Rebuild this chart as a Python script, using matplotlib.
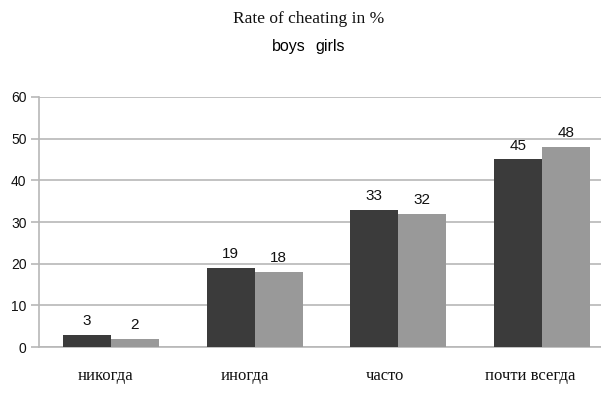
import matplotlib
matplotlib.use('Agg')
import matplotlib.pyplot as plt
import matplotlib.transforms as mtransforms
import numpy as np

plt.rcParams['font.family'] = ['Liberation Sans', 'DejaVu Sans']

categories = ['никогда', 'иногда', 'часто', 'почти всегда']
series_names = ['boys', 'girls']
boys = [3, 19, 33, 45]
girls = [2, 18, 32, 48]
y_ticks = [0, 10, 20, 30, 40, 50, 60]

colors = ['#3b3b3b', '#999999']
grid_color = '#b8b8b8'

fig = plt.figure(figsize=(6.01, 4.05), dpi=100)
ax = fig.add_axes([0.0649, 0.1432, 0.9567, 0.6173])

x = np.arange(len(categories))
w = 0.334
bars = []
for i, (vals, name) in enumerate(zip([boys, girls], series_names)):
    b = ax.bar(x + (i - 0.5) * w, vals, w, color=colors[i], label=name, zorder=3)
    bars.append(b)
    for rect, v in zip(b, vals):
        ax.annotate(str(v), (rect.get_x() + rect.get_width() / 2, v),
                    xytext=(0, 5), textcoords='offset points',
                    ha='center', va='bottom', fontsize=11, color='#111111')

ax.set_xlim(-0.5, len(categories) - 0.5)
ax.set_ylim(0, 60)
ax.set_yticks(y_ticks)
ax.yaxis.grid(True, color=grid_color, linewidth=1.2, zorder=0)
ax.set_axisbelow(True)

for side in ['top', 'right']:
    ax.spines[side].set_visible(False)
ax.spines['left'].set_color(grid_color)
ax.spines['left'].set_linewidth(1.2)
ax.spines['bottom'].set_color(grid_color)
ax.spines['bottom'].set_linewidth(1.2)

ax.tick_params(axis='y', length=6, width=1.2, color=grid_color, pad=3,
               labelsize=10, labelcolor='#111111')
ax.tick_params(axis='x', length=0, pad=15)

ax.set_xticks(x)
ax.set_xticklabels(categories, family=['Liberation Serif', 'DejaVu Serif'],
                   fontsize=12, color='#111111')
# category labels sit a little left of the bar groups
label_shift = [-5, -10, -13, -12]
for lbl, dx in zip(ax.get_xticklabels(), label_shift):
    lbl.set_transform(lbl.get_transform() +
                      mtransforms.ScaledTranslation(dx / 100, 0, fig.dpi_scale_trans))

fig.text(0.514, 0.953, 'Rate of cheating in %', ha='center', va='center',
         family=['Liberation Serif', 'DejaVu Serif'], fontsize=12.5, color='#111111')

ax.legend(bars, series_names, ncol=2, handlelength=0, handletextpad=0,
          columnspacing=0.6, frameon=False, fontsize=11.5,
          loc='center', bbox_to_anchor=(0.5125, 0.884),
          bbox_transform=fig.transFigure)

fig.savefig('out.png', dpi=100, facecolor='white')
